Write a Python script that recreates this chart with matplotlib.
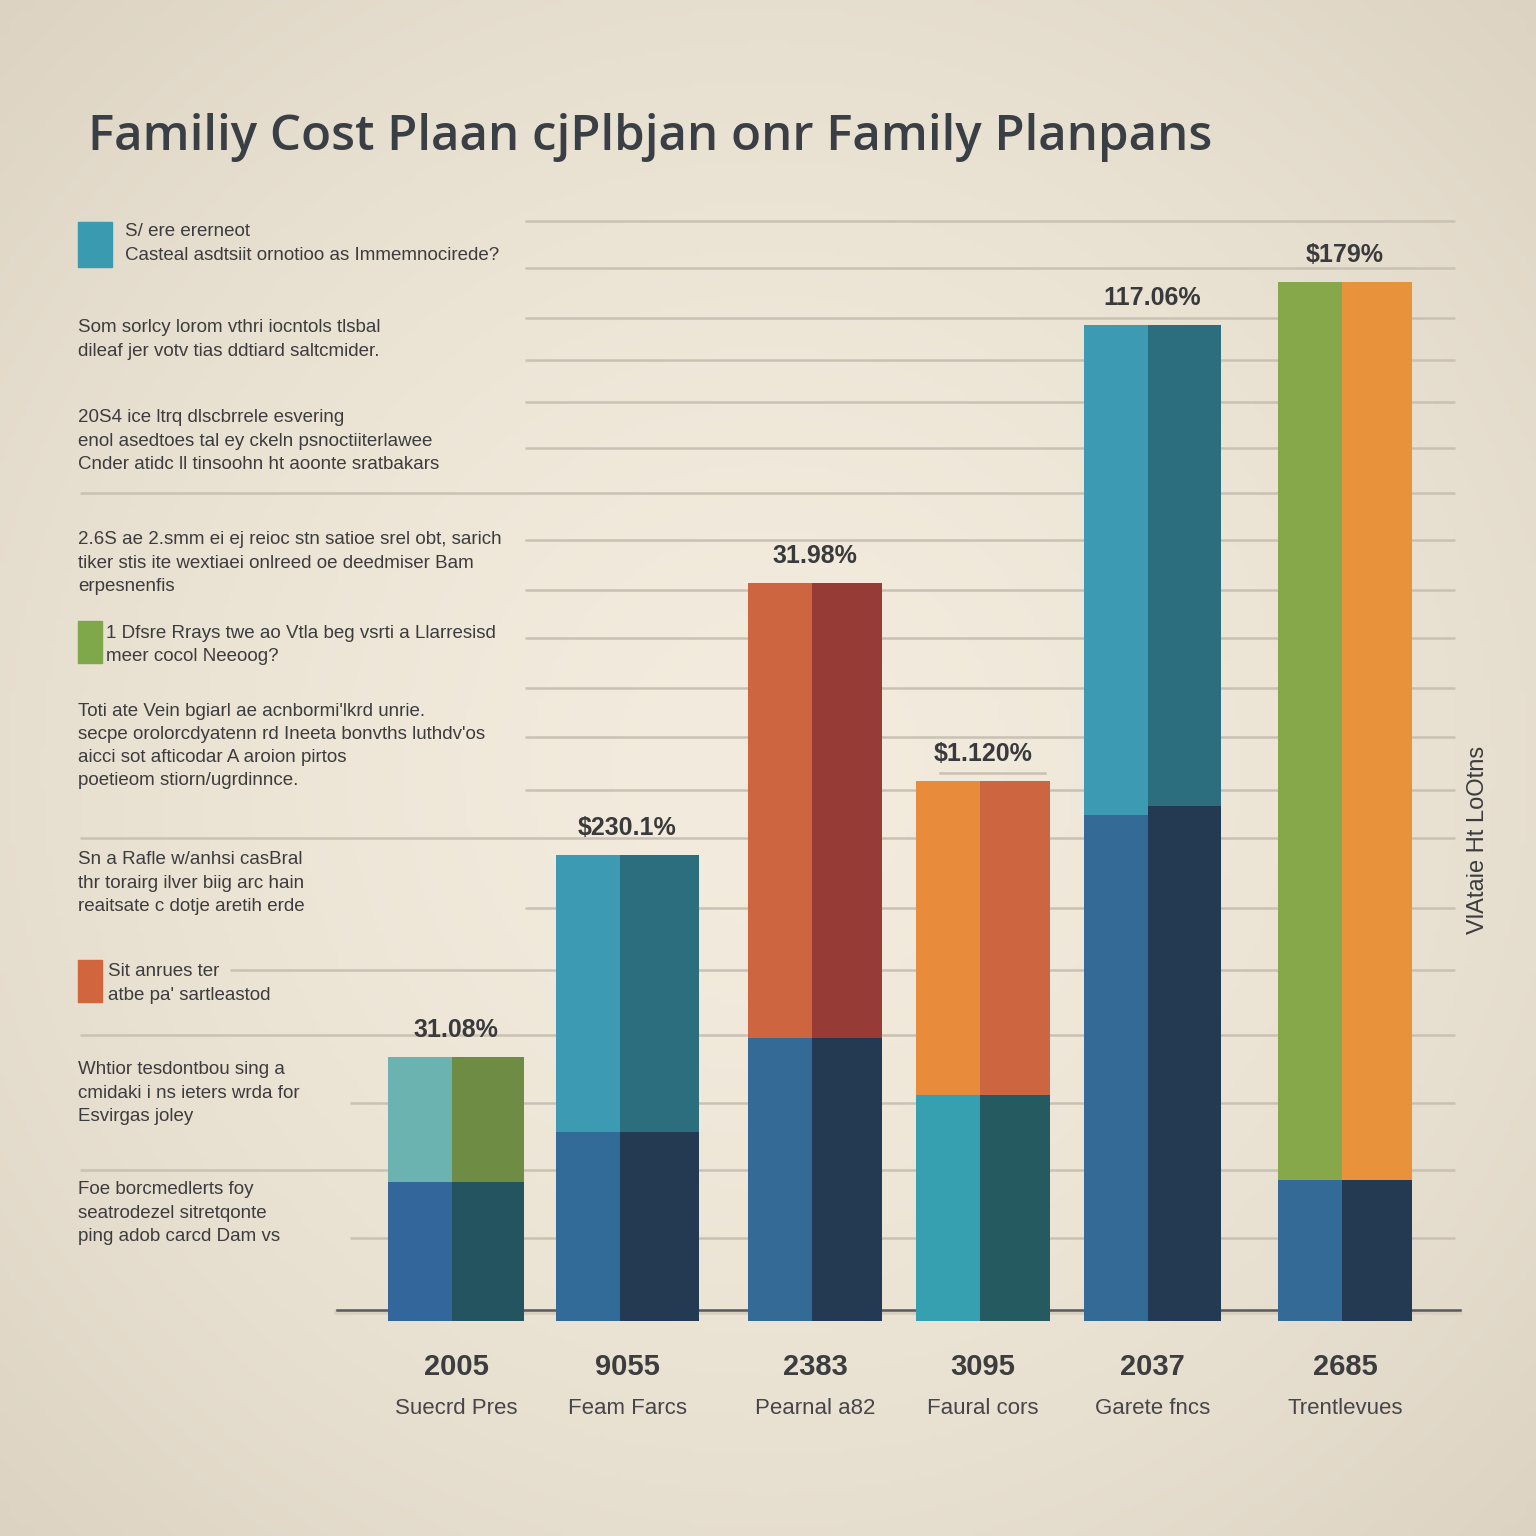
import numpy as np
import matplotlib
matplotlib.use("Agg")
import matplotlib.pyplot as plt

# ---------------- data ----------------
categories = ["Suecrd Pres", "Feam Farcs", "Pearnal a82", "Faural cors", "Garete fncs", "Trentlevues"]
years = ["2005", "9055", "2383", "3095", "2037", "2685"]
value_labels = ["31.08%", "$230.1%", "31.98%", "$1.120%", "117.06%", "$179%"]
bottom_left = [12.8, 17.8, 27.2, 21.5, 49.5, 13.0]
bottom_right = [12.8, 17.8, 27.2, 21.5, 50.4, 13.0]
totals = [25.3, 45.5, 72.7, 52.9, 98.5, 102.8]

title = "Familiy Cost Plaan cjPlbjan onr Family Planpans"
side_label = "VlAtaie Ht LoOtns"

# colours per bar: (bottom-left, bottom-right, top-left, top-right)
bar_colors = [
    ("#33669a", "#23545f", "#6ab3b0", "#6e8c44"),
    ("#336b98", "#243a52", "#3c9ab3", "#2d6e7e"),
    ("#336a96", "#243a52", "#cc6540", "#963b35"),
    ("#36a0b0", "#245a60", "#e88c3c", "#cc6540"),
    ("#336a96", "#243a52", "#3c9ab3", "#2d6e7e"),
    ("#336a96", "#243a52", "#86a84a", "#e8923c"),
]

# left column text blocks: (x, y_first_line, lines, swatch colour or None)
blocks = [
    (125, 232, ["S/ ere ererneot", "Casteal asdtsiit ornotioo as Immemnocirede?"], "#3a9ab0"),
    (78, 328, ["Som sorlcy lorom vthri iocntols tlsbal", "dileaf jer votv tias ddtiard saltcmider."], None),
    (78, 418, ["20S4 ice ltrq dlscbrrele esvering", "enol asedtoes tal ey ckeln psnoctiiterlawee",
               "Cnder atidc ll tinsoohn ht aoonte sratbakars"], None),
    (78, 540, ["2.6S ae 2.smm ei ej reioc stn satioe srel obt, sarich",
               "tiker stis ite wextiaei onlreed oe deedmiser Bam", "erpesnenfis"], None),
    (106, 633, ["1 Dfsre Rrays twe ao Vtla beg vsrti a Llarresisd", "meer cocol Neeoog?"], "#7fa84a"),
    (78, 711, ["Toti ate Vein bgiarl ae acnbormi'lkrd unrie.",
               "secpe orolorcdyatenn rd Ineeta bonvths luthdv'os",
               "aicci sot afticodar A aroion pirtos", "poetieom stiorn/ugrdinnce."], None),
    (78, 860, ["Sn a Rafle w/anhsi casBral", "thr torairg ilver biig arc hain",
               "reaitsate c dotje aretih erde"], None),
    (108, 972, ["Sit anrues ter", "atbe pa' sartleastod"], "#d0653e"),
    (78, 1070, ["Whtior tesdontbou sing a", "cmidaki i ns ieters wrda for", "Esvirgas joley"], None),
    (78, 1190, ["Foe borcmedlerts foy", "seatrodezel sitretqonte", "ping adob carcd Dam vs"], None),
]

# ---------------- layout ----------------
W = H = 1536
fig = plt.figure(figsize=(15.36, 15.36), dpi=100)

# background gradient
bg = fig.add_axes([0, 0, 1, 1], zorder=0)
yy, xx = np.mgrid[0:1:300j, 0:1:300j]
r = np.sqrt(((xx - 0.5) / 0.75) ** 2 + ((yy - 0.5) / 0.75) ** 2)
c_in = np.array([0xf3, 0xec, 0xde]) / 255
c_out = np.array([0xdc, 0xd3, 0xc2]) / 255
t = np.clip(r / 0.95, 0, 1)[..., None] ** 1.6
img = c_in * (1 - t) + c_out * t
bg.imshow(img, extent=[0, 1, 0, 1], aspect="auto")
bg.axis("off")

# overlay axes in pixel coordinates for decoration / text layout
tax = fig.add_axes([0, 0, 1, 1], zorder=1)
tax.set_xlim(0, W)
tax.set_ylim(H, 0)
tax.axis("off")
tax.patch.set_alpha(0)

# gridlines (decorative)
grid_rows = [(221, 525), (268, 525), (318, 525), (360, 525), (402, 525), (448, 525),
             (493, 80), (540, 525), (590, 525), (638, 525), (688, 525), (737, 525),
             (790, 525), (838, 80), (908, 525), (970, 230), (1035, 80), (1103, 350),
             (1170, 80), (1238, 350)]
for y, x0 in grid_rows:
    tax.plot([x0, 1455], [y, y], color="#c9c1b3", lw=1.8, zorder=1, solid_capstyle="butt")

# main chart axes: value units, baseline pixel 1310, 10 px per unit
ax = fig.add_axes([0, 0, 1, 1], zorder=2)
ax.patch.set_alpha(0)
ax.set_xlim(0, W)
ax.set_ylim((1310 - H) / 10.0, 1310 / 10.0)
ax.axis("off")

splits = [452, 620, 812, 980, 1148, 1342]
wl = 64
wrs = [72, 79, 70, 70, 73, 70]
base = -1.1
for i in range(len(categories)):
    s = splits[i]
    wr = wrs[i]
    cbl, cbr, ctl, ctr = bar_colors[i]
    ax.bar(s - wl, bottom_left[i] - base, width=wl, bottom=base, align="edge", color=cbl, lw=0, zorder=3)
    ax.bar(s, bottom_right[i] - base, width=wr, bottom=base, align="edge", color=cbr, lw=0, zorder=3)
    ax.bar(s - wl, totals[i] - bottom_left[i], width=wl, bottom=bottom_left[i], align="edge",
           color=ctl, lw=0, zorder=3)
    ax.bar(s, totals[i] - bottom_right[i], width=wr, bottom=bottom_right[i], align="edge",
           color=ctr, lw=0, zorder=3)
    cx = s + (wr - wl) / 2.0
    ax.text(cx, totals[i] + 2.7, value_labels[i], ha="center", va="center", fontsize=18,
            fontweight="bold", color="#3a3a3c", family="Liberation Sans", zorder=5)
    tax.text(cx, 1367, years[i], ha="center", va="center", fontsize=21, fontweight="bold",
             color="#3d3d40", family="Liberation Sans")
    tax.text(cx, 1408, categories[i], ha="center", va="center", fontsize=16,
             color="#45454a", family="Liberation Sans")

# short line under one label
tax.plot([940, 1045], [773, 773], color="#c9c1b3", lw=1.8, zorder=1)

# baseline
tax.plot([337, 1460], [1312, 1312], color="#d8d0c2", lw=4, zorder=1)
tax.plot([337, 1460], [1310, 1310], color="#5a5a5e", lw=1.8, zorder=2)

# title
tt = tax.text(88, 138, title, ha="left", va="center", fontsize=44, fontweight="semibold",
              color="#3a3f46", family="Open Sans")
fig.canvas.draw()
bb = tt.get_window_extent()
tt.set_fontsize(44 * (1215 - 88) / bb.width)

# left column text
for x, y0, lines, sw in blocks:
    for k, line in enumerate(lines):
        tax.text(x, y0 + k * 23.3, line, ha="left", va="center", fontsize=13.5,
                 color="#3c3c3e", family=["Liberation Sans", "DejaVu Sans"])
    if sw is not None:
        if x > 110:
            tax.add_patch(plt.Rectangle((78, 222), 34, 45, color=sw, zorder=2))
        else:
            tax.add_patch(plt.Rectangle((78, y0 - 12), 24, 42, color=sw, zorder=2))

# rotated side label
tax.text(1478, 840, side_label, rotation=90, ha="center", va="center", fontsize=17,
         color="#3c3c3e", family="Liberation Sans")

fig.savefig("out.png", dpi=100)
